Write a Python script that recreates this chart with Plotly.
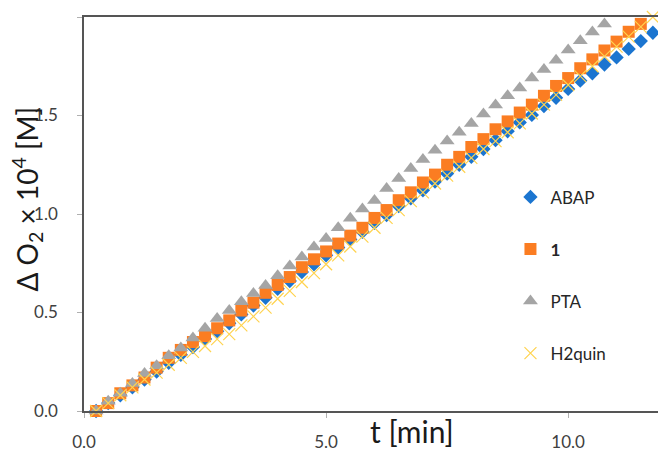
import plotly.graph_objects as go

# time axis (min)
t_abap = [0.25, 0.5, 0.75, 1.0, 1.25, 1.5, 1.75, 2.0, 2.25, 2.5, 2.75, 3.0, 3.25, 3.5, 3.75, 4.0,
          4.25, 4.5, 4.75, 5.0, 5.25, 5.5, 5.75, 6.0, 6.25, 6.5, 6.75, 7.0, 7.25, 7.5, 7.75, 8.0,
          8.25, 8.5, 8.75, 9.0, 9.25, 9.5, 9.75, 10.0, 10.25, 10.5, 10.75, 11.0, 11.25, 11.5, 11.75, 12.0]
y_abap = [0.00, 0.04, 0.08, 0.12, 0.16, 0.20, 0.245, 0.285, 0.325, 0.365, 0.405, 0.445, 0.49, 0.535, 0.575, 0.62,
          0.66, 0.705, 0.745, 0.79, 0.83, 0.87, 0.91, 0.955, 0.995, 1.04, 1.08, 1.12, 1.165, 1.205, 1.25, 1.29,
          1.33, 1.375, 1.42, 1.465, 1.503, 1.548, 1.59, 1.635, 1.677, 1.714, 1.759, 1.795, 1.838, 1.878, 1.92, 1.96]

t_one = t_abap[:46]
y_one = [0.00, 0.04, 0.09, 0.13, 0.17, 0.22, 0.27, 0.31, 0.35, 0.38, 0.42, 0.46, 0.51, 0.55, 0.60, 0.64,
         0.68, 0.73, 0.77, 0.81, 0.85, 0.89, 0.93, 0.98, 1.02, 1.07, 1.11, 1.16, 1.20, 1.25, 1.29, 1.34,
         1.38, 1.43, 1.47, 1.515, 1.555, 1.60, 1.65, 1.69, 1.74, 1.785, 1.83, 1.875, 1.925, 1.965]

t_pta = t_abap[:43]
y_pta = [0.00, 0.05, 0.09, 0.14, 0.19, 0.23, 0.28, 0.32, 0.37, 0.42, 0.47, 0.51, 0.554, 0.596, 0.637, 0.687,
         0.736, 0.782, 0.832, 0.876, 0.93, 0.979, 1.025, 1.069, 1.129, 1.18, 1.231, 1.277, 1.323, 1.37, 1.415, 1.46,
         1.508, 1.553, 1.60, 1.64, 1.69, 1.734, 1.78, 1.833, 1.88, 1.924, 1.965]

t_h2q = t_abap[:47]
y_h2q = [0.00, 0.04, 0.08, 0.12, 0.16, 0.195, 0.235, 0.27, 0.30, 0.33, 0.365, 0.39, 0.435, 0.48, 0.525, 0.57,
         0.61, 0.655, 0.70, 0.745, 0.79, 0.835, 0.885, 0.93, 0.98, 1.02, 1.065, 1.11, 1.155, 1.195, 1.24, 1.285,
         1.33, 1.37, 1.415, 1.46, 1.51, 1.555, 1.605, 1.655, 1.70, 1.75, 1.80, 1.85, 1.90, 1.95, 2.0]

x_ticks = [0, 5, 10]
y_ticks = [0.0, 0.5, 1.0, 1.5, 2.0]

FONT = "Lato"

fig = go.Figure()
fig.add_trace(go.Scatter(x=t_abap, y=y_abap, mode="markers", name="ABAP", legendgroup="a",
                         marker=dict(symbol="diamond", size=11, color="#1b75d0"), cliponaxis=False))
fig.add_trace(go.Scatter(x=t_one, y=y_one, mode="markers", name="<b>1</b>", legendgroup="b",
                         marker=dict(symbol="square", size=12, color="#fb7d22"), cliponaxis=False))
fig.add_trace(go.Scatter(x=t_pta, y=y_pta, mode="markers", name="PTA", legendgroup="c",
                         marker=dict(symbol="triangle-up", size=13, color="#a5a5a5"), cliponaxis=False))
fig.add_trace(go.Scatter(x=t_h2q, y=y_h2q, mode="markers", name="H2quin", legendgroup="d",
                         marker=dict(symbol="x-thin", size=12, color="#ffd34f",
                                     line=dict(color="#ffd34f", width=1.2)), cliponaxis=False))

fig.update_layout(
    width=666, height=451,
    margin=dict(l=76, r=7, t=8, b=39),
    paper_bgcolor="white", plot_bgcolor="white",
    font=dict(family=FONT, color="#404040", size=17),
    showlegend=True,
    legend=dict(x=0.734, y=0.588, xanchor="left", yanchor="top", traceorder="grouped",
                tracegroupgap=27, font=dict(size=17, color="#262626"), bgcolor="rgba(0,0,0,0)"),
    xaxis=dict(range=[0, 12], tickvals=x_ticks, tickformat=".1f", showgrid=False, zeroline=False,
               showline=True, linecolor="#555555", linewidth=1.5, mirror=True,
               ticks="outside", ticklen=5, tickcolor="#b0b0b0", ticklabelstandoff=10),
    yaxis=dict(range=[0, 2], tickvals=y_ticks, tickformat=".1f", showgrid=False, zeroline=False,
               showline=True, linecolor="#555555", linewidth=1.5, mirror=True,
               ticks="outside", ticklen=5, tickcolor="#b0b0b0", ticklabelstandoff=16),
    annotations=[
        dict(text="t [min]", xref="paper", yref="paper", x=(405 - 76) / 583, y=-(433 - 412) / 404,
             xanchor="center", yanchor="middle", showarrow=False, font=dict(size=30, color="#1a1a1a")),
        dict(text="Δ O<sub>2</sub> × 10<sup>4</sup> [M]", xref="paper", yref="paper",
             x=-(76 - 19) / 583, y=(412 - 195) / 404, textangle=-90,
             xanchor="center", yanchor="middle", showarrow=False, font=dict(size=28, color="#1a1a1a")),
    ],
)

fig.write_html("out.html")
